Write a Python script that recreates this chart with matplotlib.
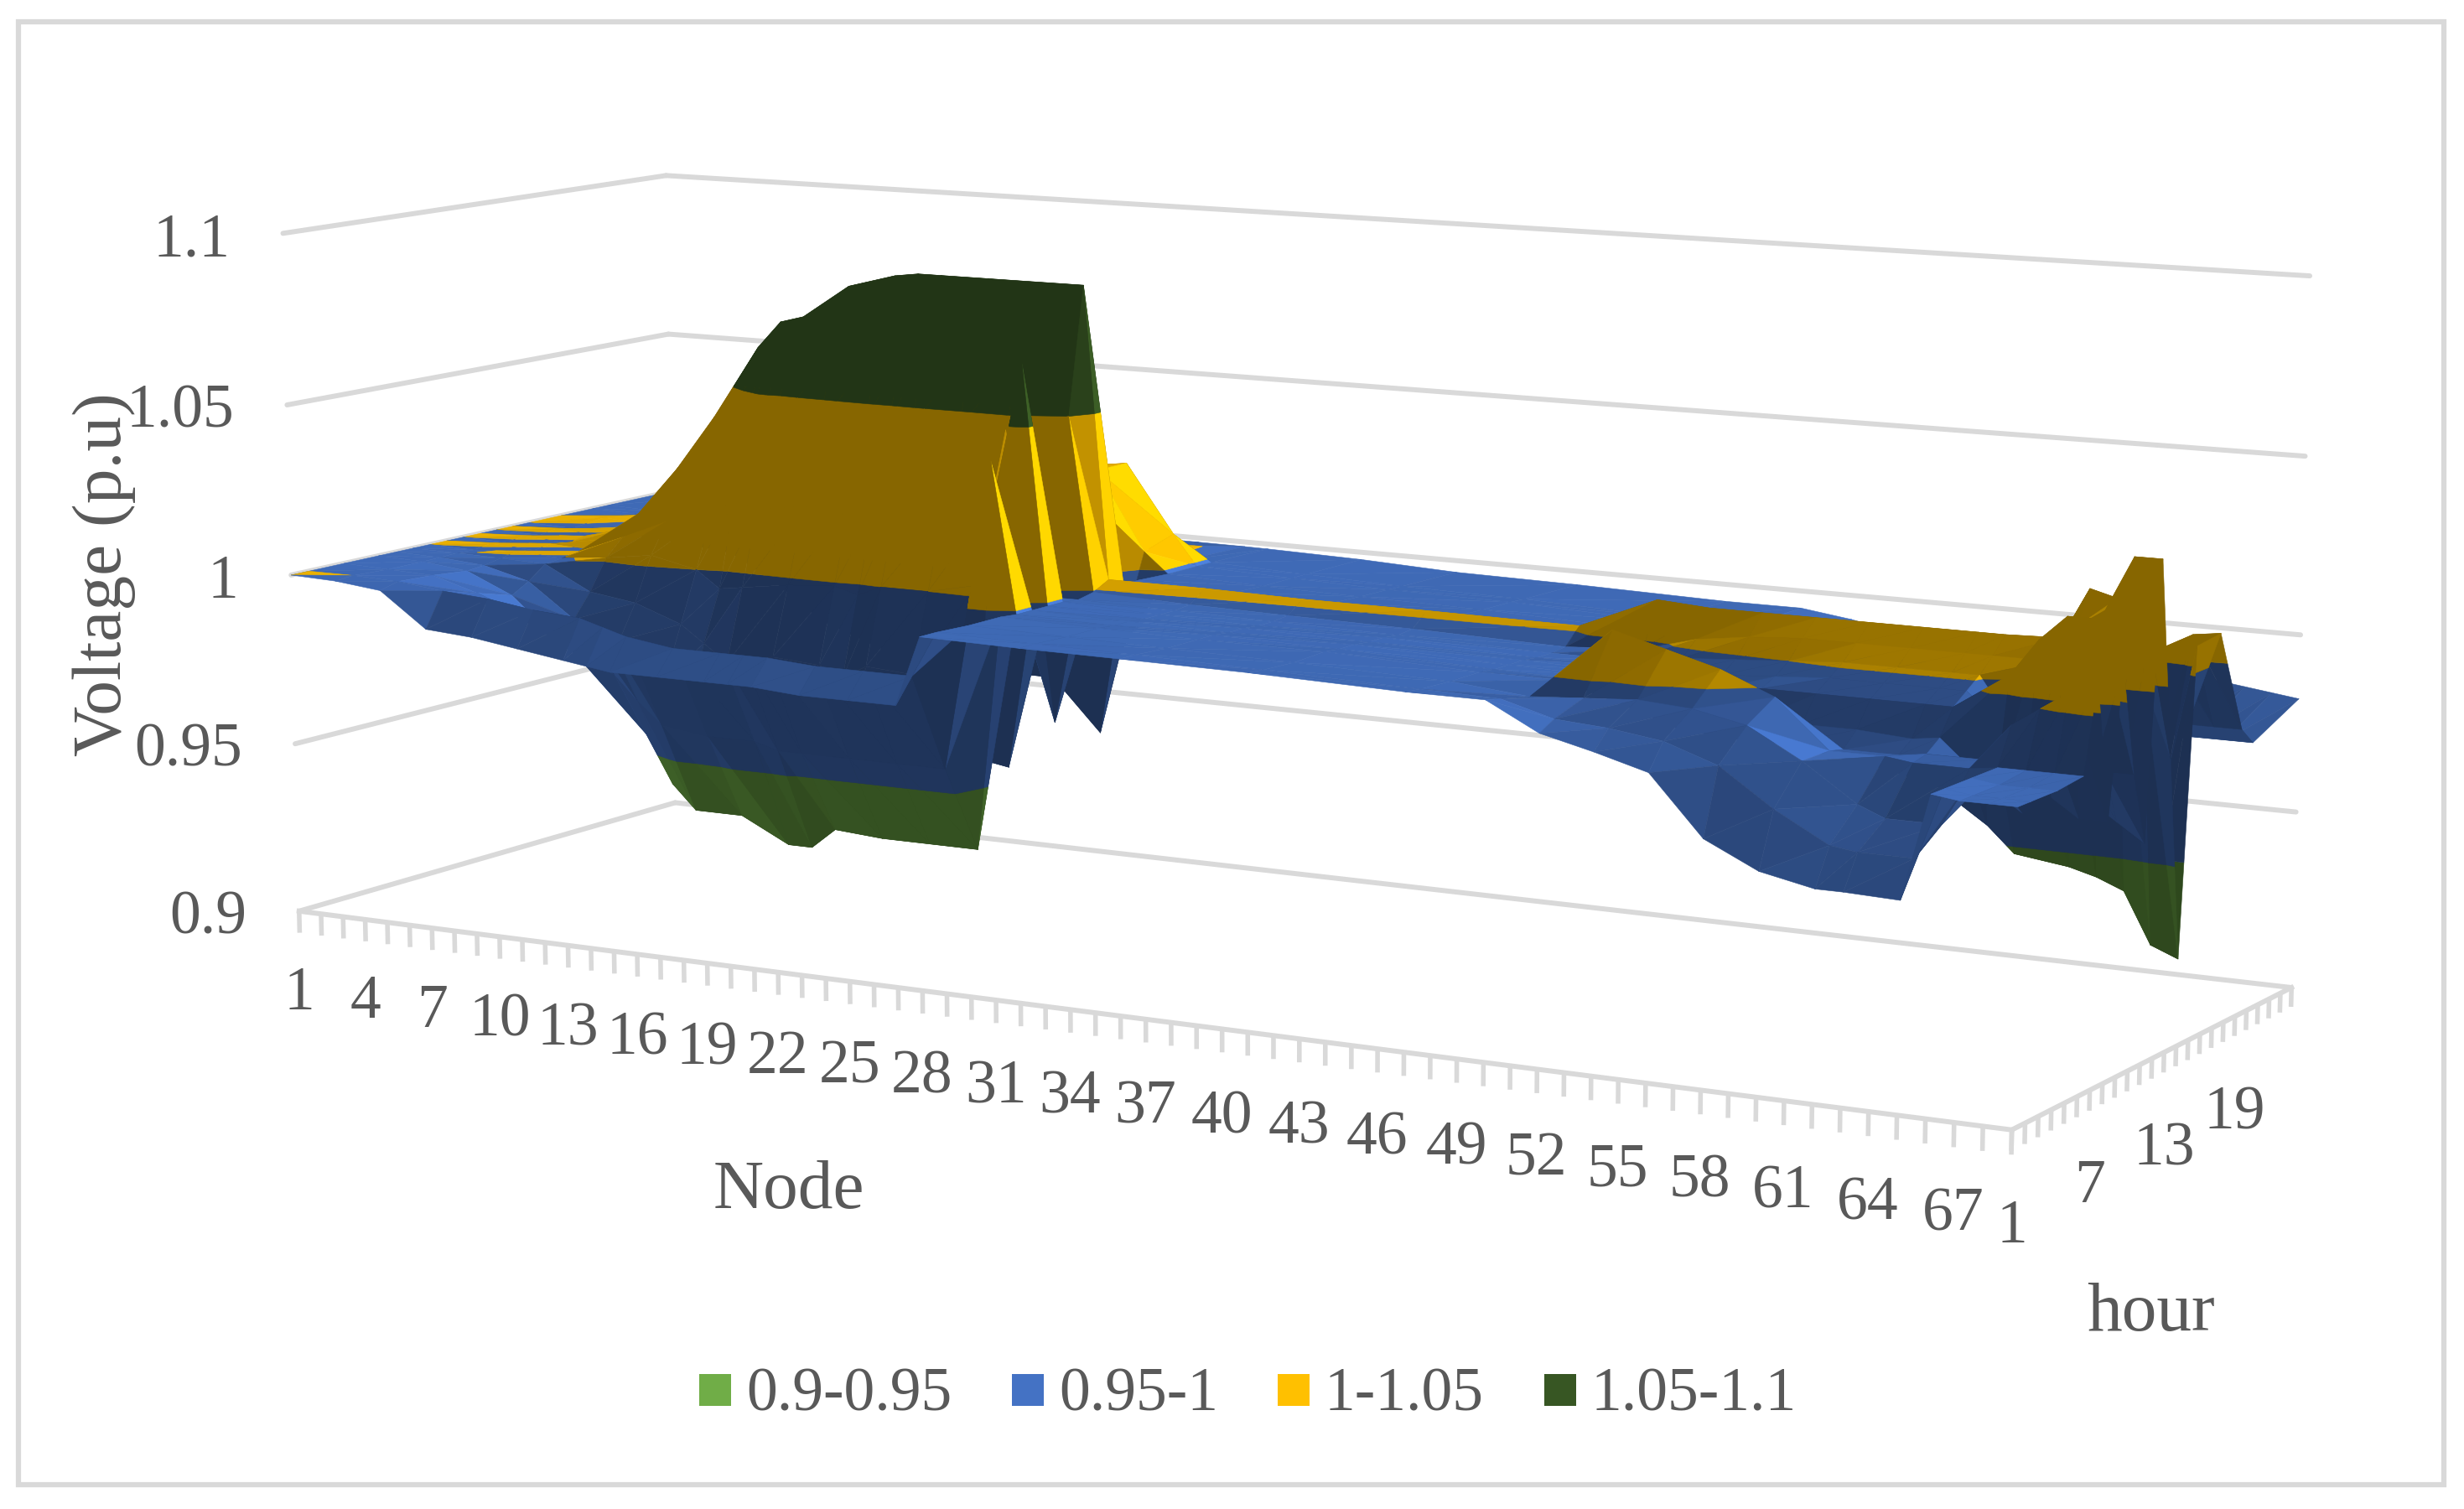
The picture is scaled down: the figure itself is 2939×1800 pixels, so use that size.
import numpy as np
import matplotlib
matplotlib.use('Agg')
import matplotlib.pyplot as plt
from matplotlib.patches import Rectangle
from mpl_toolkits.mplot3d.art3d import Poly3DCollection

W, H = 2939, 1800
plt.rcParams['font.family'] = ['Liberation Serif', 'DejaVu Serif']
TEXT = '#595959'
GRID = '#D9D9D9'

# bands of the surface
band_labels = ['0.9-0.95', '0.95-1', '1-1.05', '1.05-1.1']
band_edges = [0.9, 0.95, 1.0, 1.05, 1.1]
band_colors = ['#70AD47', '#4472C4', '#FFC000', '#375623']
band_floor = [0.40, 0.42, 0.53, 0.62]  # darkest shade per band

z_ticks = [0.9, 0.95, 1.0, 1.05, 1.1]
z_tick_labels = ['0.9', '0.95', '1', '1.05', '1.1']
node_tick_labels = list(range(1, 70, 3))
hour_tick_labels = [1, 7, 13, 19]

# voltage (p.u) per hour at these nodes
nodes = [1, 3, 5, 7, 9, 11, 13, 14, 15, 17, 19, 20, 21, 23, 25, 27,
         28, 32, 36, 41, 47,
         50, 52, 54, 56, 58, 60, 62, 63,
         65, 66, 67, 68, 69]
hours = [1, 2, 4, 6, 7, 8, 9, 10, 11, 12, 13, 14, 15, 17, 19, 20, 24]

hour_01 = [1.0, .9995, .998, .988, .987, .985, .983, .982, .981, .981, .981, .981, .981, .980, .980, .980,
           1.0, .9995, .9993, .999, .998,
           .998, .9905, .987, .983, .967, .96, .957, .957,
           .9565, .985, .984, .984, .984]
hour_02 = [1.0, 1.0, .9995, .998, .997, .995, .994, .992, .99, .988, .988, .988, .988, .987, .987, .987,
           1.0, .9995, .9992, .9985, .9975,
           .997, .993, .992, .99, .985, .975, .967, .966,
           .966, .985, .984, .984, .984]
hour_04 = [1.0, .9995, .999, .995, .99, .982, .975, .968, .962, .96, .96, .958, .958, .958, .958, .958,
           .9995, .999, .9985, .998, .997,
           .995, .996, .997, .996, .993, .985, .975, .972,
           .972, .985, .984, .984, .984]
hour_06 = [1.0, .9995, .998, .992, .98, .971, .954, .941, .934, .934, .927, .927, .933, .932, .932, .932,
           .9995, .999, .9985, .9985, .997,
           .997, 1.012, 1.008, 1.004, .998, .985, .985, .984,
           .984, .985, .985, .985, .985]
hour_07 = [1.0, .9996, .9985, .995, .985, .98, .97, .96, .955, .956, .955, .95, .955, .955, .958, 1.042,
           .999, .9985, .9985, .998, .9965,
           .996, .99, .985, .984, .984, .984, .984, .985,
           .985, .995, 1.0, 1.005, 1.009]
hour_08 = [1.0, .9998, .9995, .999, .992, .99, .985, .98, .975, .978, .977, .974, .978, .977, .98, .953,
           .999, .9985, .998, .998, .9965,
           .996, .988, .986, .987, .988, .988, .987, .988,
           .975, .97, .975, .97, .97]
hour_09 = [1.0, .9996, 1.0004, .9996, 1.001, 1.003, 1.0, .995, .996, .998, .999, .997, 1.0, 1.0, 1.003, 1.068,
           .999, .998, .998, .9975, .9965,
           .996, .992, .993, .995, .995, .995, .995, .995,
           1.005, 1.015, 1.022, 1.022, 1.01]
hour_10 = [1.0, 1.0004, .9996, 1.0004, 1.006, 1.012, 1.016, 1.02, 1.018, 1.02, 1.022, 1.02, 1.023, 1.022, 1.025, 1.0,
           .999, .998, .9975, .9975, .996,
           .996, .995, .996, .997, .998, .998, .998, .998,
           .985, .99, .985, .98, .98]
hour_11 = [1.0, .9996, 1.0004, .9996, 1.012, 1.024, 1.034, 1.042, 1.04, 1.042, 1.044, 1.044, 1.045, 1.045, 1.046, .962,
           .9985, .998, .9975, .997, .996,
           .996, .998, .999, 1.0, 1.001, 1.001, 1.001, 1.001,
           .98, .975, .97, .965, .96]
hour_12 = [1.0, 1.0004, .9996, 1.002, 1.015, 1.033, 1.05, 1.058, 1.06, 1.064, 1.067, 1.067, 1.068, 1.068, 1.068, 1.05,
           .9995, .9985, .998, .9975, .9965,
           .998, 1.002, 1.004, 1.005, 1.005, 1.005, 1.005, 1.005,
           1.005, 1.015, 1.02, 1.035, 1.035]
hour_13 = [1.0, .9996, 1.0005, 1.004, 1.018, 1.04, 1.062, 1.07, 1.072, 1.082, 1.086, 1.087, 1.087, 1.087, 1.087, 1.087,
           1.002, 1.002, 1.0015, 1.0015, 1.0012,
           1.0105, 1.0095, 1.0095, 1.0095, 1.0095, 1.0095, 1.0095, 1.0095,
           1.01, 1.024, 1.022, 1.0, .98]
hour_14 = [1.0, 1.0005, .9995, 1.0008, .9995, .998, .99, .985, .98, .975, .97, .97, .97, .97, .97, .955,
           .9995, .9985, .998, .9975, .9965,
           .985, .975, .972, .97, .968, .965, .955, .948,
           .946, .944, .941, .927, .924]
hour_15 = [1.0, .9995, 1.0006, .9995, 1.0006, .999, 1.0, 1.002, 1.005, 1.01, 1.018, 1.018, 1.02, 1.026, 1.028, .975,
           .9995, .9985, .998, .9975, .996,
           .99, .985, .982, .98, .98, .978, .975, .975,
           .975, .96, .955, .97, 1.008]
hour_17 = [1.0, 1.0006, .9995, 1.0006, .9995, 1.0, 1.001, 1.003, 1.005, 1.012, 1.018, 1.019, 1.02, 1.026, 1.028, 1.005,
           .999, .998, .9975, .997, .9955,
           .994, .992, .99, .988, .985, .985, .985, .985,
           .99, 1.0, 1.004, 1.008, 1.009]
hour_19 = [1.0, .9995, 1.0005, .9995, 1.0005, 1.0, 1.001, 1.002, 1.004, 1.01, 1.015, 1.016, 1.02, 1.026, 1.028, 1.008,
           .999, .998, .9972, .9968, .9952,
           .995, .993, .99, .988, .986, .985, .985, .985,
           .98, .98, .98, .98, .98]
hour_20 = [1.0, .9995, 1.0005, .9995, 1.0005, 1.0, 1.0, 1.0, 1.0, 1.0, 1.0, 1.0, 1.0, 1.001, 1.002, .9992,
           .999, .998, .997, .9965, .995,
           .995, .993, .99, .988, .986, .985, .985, .985,
           .975, .975, .975, .975, .975]
hour_24 = [1.0, .9996, .9995, .9995, .9995, .9995, .9993, .9992, .9991, .999, .999, .999, .999, .9988, .9987, .9986,
           .9985, .9978, .9965, .996, .995,
           .995, .993, .99, .988, .986, .985, .985, .985,
           .985, .985, .984, .983, .982]

volts = np.array([hour_01, hour_02, hour_04, hour_06, hour_07, hour_08, hour_09, hour_10,
                  hour_11, hour_12, hour_13, hour_14, hour_15, hour_17, hour_19, hour_20, hour_24])

# box corners on the canvas, used to fit the camera
corners_norm = np.array([[0, 0, 0], [1, 0, 0], [0, 1, 0], [1, 1, 0],
                         [0, 0, 1], [1, 0, 1], [0, 1, 1], [1, 1, 1]], float)
corners_px = np.array([[357, 1088], [2400, 1346], [805, 956], [2733, 1180],
                       [337, 278], [2417, 421], [795, 210], [2755, 328]], float)


def fit_camera():
    rows = []
    for (x, y, z), (u, v) in zip(corners_norm, corners_px):
        rows.append([x, y, z, 1, 0, 0, 0, 0, -u * x, -u * y, -u * z, -u])
        rows.append([0, 0, 0, 0, x, y, z, 1, -v * x, -v * y, -v * z, -v])
    P = np.linalg.svd(np.array(rows))[2][-1].reshape(3, 4)
    centre = np.linalg.svd(P)[2][-1]
    scale = np.array([[1 / 68, 0, 0, -1 / 68],
                      [0, 1 / 23, 0, -1 / 23],
                      [0, 0, 5, -4.5],
                      [0, 0, 0, 1]])
    return np.array([P[0], P[1], centre, P[2]]) @ scale


M = fit_camera()


def to_px(n, h, v):
    p = M @ np.array([n, h, v, 1.0])
    return p[0] / p[3], p[1] / p[3]


def clip_tri(poly, lo, hi):
    # cut a polygon to lo <= z <= hi
    for limit, sign in ((lo, 1), (hi, -1)):
        out = []
        for a, b in zip(poly, poly[1:] + poly[:1]):
            da, db = sign * (a[2] - limit), sign * (b[2] - limit)
            if da >= 0:
                out.append(a)
            if da * db < 0:
                t = da / (da - db)
                out.append(tuple(a[k] + t * (b[k] - a[k]) for k in range(3)))
        poly = out
        if not poly:
            break
    return poly


def shade(tri, depth):
    # light comes from the right and above
    a, b, c = [np.array([(p[0] - 1) / 68 * 3, (p[1] - 1) / 23 * depth, (p[2] - 0.9) / 0.2]) for p in tri]
    nrm = np.cross(b - a, c - a)
    nrm = nrm / (np.linalg.norm(nrm) + 1e-12)
    if nrm[2] < 0:
        nrm = -nrm
    side = 0.40 * nrm[0] if nrm[0] > 0 else 0.15 * nrm[0]
    return 0.70 + side - 0.30 * abs(nrm[1]) + 0.22 * nrm[2]


def band_polys(tri, depth):
    f = shade(tri, depth)
    res = []
    for i, col in enumerate(band_colors):
        poly = clip_tri(tri, band_edges[i], band_edges[i + 1])
        if len(poly) >= 3:
            rgb = np.clip(np.array(matplotlib.colors.to_rgb(col)) * max(f, band_floor[i]), 0, 1)
            res.append((poly, tuple(rgb)))
    return res


# far rows first, left columns first, so nearer cells paint over
polys, colors = [], []
for r in range(len(hours) - 2, -1, -1):
    for c in range(len(nodes) - 1):
        # the first hour strip, the low left sheet and the flat middle stay light
        light = r == 0 or (r <= 2 and nodes[c] <= 9) or 28 <= nodes[c] < 47
        depth = 1.0 if light else 0.4
        p00 = (nodes[c], hours[r], volts[r, c])
        p10 = (nodes[c + 1], hours[r], volts[r, c + 1])
        p01 = (nodes[c], hours[r + 1], volts[r + 1, c])
        p11 = (nodes[c + 1], hours[r + 1], volts[r + 1, c + 1])
        for tri in ([p01, p11, p00], [p11, p10, p00]):
            for poly, rgb in band_polys(tri, depth):
                polys.append(poly)
                colors.append(rgb)

fig = plt.figure(figsize=(W / 100, H / 100), dpi=100, facecolor='white')
pad = (W - H) / 2
ax = fig.add_axes([0, -pad / H, 1, W / H], projection='3d', computed_zorder=False)
ax.set_axis_off()
ax.patch.set_visible(False)
ax.autoscale(False)
ax.set_proj_type('ortho')  # no clipping of lines to the unit cube
ax.get_proj = lambda: M

lw = 4.3
# back wall and left wall grid
for z in z_ticks:
    ax.plot([1, 69], [24, 24], [z, z], color=GRID, lw=lw, zorder=1, solid_capstyle='round')
    ax.plot([1, 1], [1, 24], [z, z], color=GRID, lw=lw, zorder=1, solid_capstyle='round')
# floor edges and tick marks
ax.plot([1, 69], [1, 1], [0.9, 0.9], color=GRID, lw=lw, zorder=1)
ax.plot([69, 69], [1, 24], [0.9, 0.9], color=GRID, lw=lw, zorder=1)
for n in range(1, 70):
    ax.plot([n, n], [1, 1], [0.9, 0.8935], color=GRID, lw=4.0, zorder=1, solid_capstyle='butt')
for h in range(1, 25):
    ax.plot([69, 69], [h, h], [0.9, 0.8945], color=GRID, lw=4.0, zorder=1, solid_capstyle='butt')

surface = Poly3DCollection(polys, facecolors=colors, edgecolors=colors, linewidths=0.4, zorder=2)
# cells are already listed far to near, a constant key keeps that order
surface._zsortfunc = lambda z: 0.0
ax.add_collection3d(surface, autolim=False)

ax.viewLim.intervalx = (0, W)
ax.viewLim.intervaly = (H + pad, -pad)


def put_text(x, y, s, size=53, **kw):
    fig.text(x / W, 1 - y / H, s, fontsize=size, color=TEXT, **kw)


for z, lab in zip(z_ticks, z_tick_labels):
    x, y = to_px(1, 1, z)
    put_text(x - 63, y + 9, lab, ha='right', va='center')
for n in node_tick_labels:
    x, y = to_px(n, 1, 0.9)
    t = (n - 1) / 66
    put_text(x - t, y + 99 + 12 * t, str(n), ha='center', va='center')
for h in hour_tick_labels:
    x, y = to_px(69, h, 0.9)
    put_text(x, y + 116, str(h), ha='center', va='center')

put_text(941, 1421, 'Node', size=60, ha='center', va='center')
put_text(2566, 1567, 'hour', size=60, ha='center', va='center')
put_text(124, 685, 'Voltage (p.u)', size=60, rotation=90, ha='center', va='center')

# legend row
legend_x = [834, 1207, 1524, 1842]
for x0, lab, col in zip(legend_x, band_labels, band_colors):
    fig.add_artist(Rectangle((x0 / W, 1 - 1677 / H), 38 / W, 38 / H, transform=fig.transFigure,
                             facecolor=col, edgecolor='none'))
    put_text(x0 + 56, 1665, lab, ha='left', va='center')

# chart frame
fig.add_artist(Rectangle((22 / W, 1 - 1771 / H), 2893 / W, 1745 / H, transform=fig.transFigure,
                         fill=False, edgecolor=GRID, lw=4.5))

fig.savefig('out.png', dpi=100)
